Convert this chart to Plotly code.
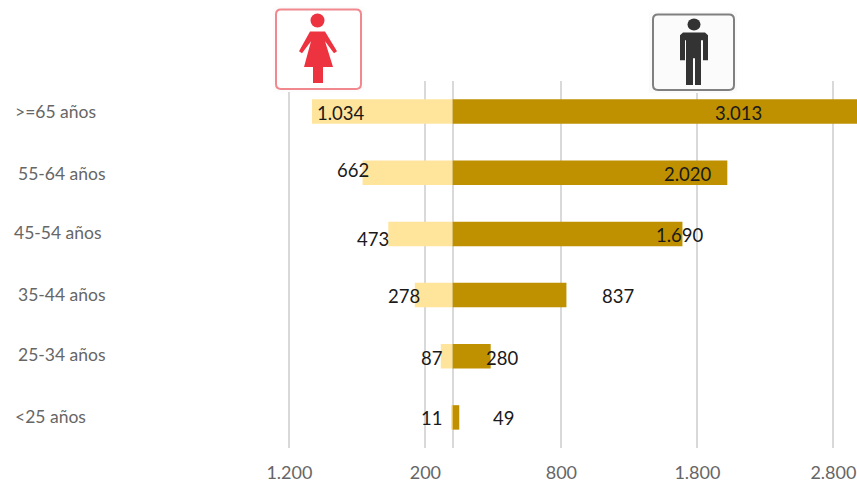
import plotly.graph_objects as go

categories = [">=65 años", "55-64 años", "45-54 años", "35-44 años", "25-34 años", "<25 años"]
mujeres = [1034, 662, 473, 278, 87, 11]
hombres = [3013, 2020, 1690, 837, 280, 49]
tick_vals = [-1200, -200, 0, 800, 1800, 2800]
tick_text = ["1.200", "200", "", "800", "1.800", "2.800"]
mujeres_text = ["1.034", "662", "473", "278", "87", "11"]
hombres_text = ["3.013", "2.020", "1.690", "837", "280", "49"]

W, H = 857, 483
FONT = "Lato"
def px(x): return x / W
def py(y): return 1 - (y - 81) / (451 - 81)

fig = go.Figure()
fig.add_bar(y=categories, x=[-v for v in mujeres], orientation="h", marker=dict(color="#FFE49C", line_width=0), name="Mujeres")
fig.add_bar(y=categories, x=hombres, orientation="h", marker=dict(color="#BF9000", line_width=0), name="Hombres")

ann = []
cat_x = [15, 18, 14, 18, 18, 15]
cat_y = [112, 174, 234, 296, 357, 419]
for t, x, y in zip(categories, cat_x, cat_y):
    ann.append(dict(x=px(x), y=py(y), xref="paper", yref="paper", text=t.replace("<", "&lt;"), showarrow=False,
                    xanchor="left", yanchor="middle", xshift=-2, font=dict(family=FONT, size=17.5, color="#666666")))
m_pos = [(341, 113), (353, 171), (373, 240), (404, 298), (431, 360), (431, 421)]
h_pos = [(738, 113), (688, 175), (680, 236), (618, 298), (502, 360), (504, 421)]
for t, (x, y) in list(zip(mujeres_text, m_pos)) + list(zip(hombres_text, h_pos)):
    ann.append(dict(x=px(x), y=py(y), xref="paper", yref="paper", text=t, showarrow=False,
                    xanchor="center", yanchor="middle", font=dict(family=FONT, size=18.5, color="#1a1a1a")))

def rect(x0, y0, x1, y1, r):
    return (f"M{px(x0+r)},{py(y0)} L{px(x1-r)},{py(y0)} Q{px(x1)},{py(y0)} {px(x1)},{py(y0+r)} "
            f"L{px(x1)},{py(y1-r)} Q{px(x1)},{py(y1)} {px(x1-r)},{py(y1)} L{px(x0+r)},{py(y1)} "
            f"Q{px(x0)},{py(y1)} {px(x0)},{py(y1-r)} L{px(x0)},{py(y0+r)} Q{px(x0)},{py(y0)} {px(x0+r)},{py(y0)} Z")
def poly(points):
    return "M" + " L".join(f"{px(x)},{py(y)}" for x, y in points) + " Z"
def shape(path, fill, line="rgba(0,0,0,0)", w=0):
    return dict(type="path", xref="paper", yref="paper", path=path, fillcolor=fill, line=dict(color=line, width=w), layer="above")
def circle(cx, cy, rx, ry, fill):
    return dict(type="circle", xref="paper", yref="paper", x0=px(cx-rx), x1=px(cx+rx), y0=py(cy+ry), y1=py(cy-ry),
                fillcolor=fill, line=dict(width=0), layer="above")

shapes = [
    shape(rect(273, 6, 364, 92, 2), "#FCFCFC"),
    shape(rect(276, 9, 361, 89, 5), "#FFFFFF", "#F0888E", 2),
    circle(317.5, 20, 7, 7, "#EE3340"),
    shape(poly([(310, 31), (325, 31), (337, 51), (334, 53), (325, 41), (333, 67), (323, 67), (323, 83), (313, 83),
                (313, 67), (304, 67), (311, 41), (302, 53), (299, 51)]), "#EE3340"),
    shape(rect(649, 11, 737, 93, 1), "#FBFBFB"),
    shape(rect(653, 14, 734, 90, 5), "#FBFBFB", "#808080", 2),
    circle(694, 24, 6.5, 6, "#333333"),
    shape(poly([(683, 32), (705, 32), (708, 35), (708, 60), (703, 60), (703, 40), (701, 40), (701, 85), (695, 85),
                (695, 58), (693, 58), (693, 85), (686, 85), (686, 40), (685, 40), (685, 60), (680, 60), (680, 35)]), "#333333"),
]

fig.update_layout(
    width=W, height=H, showlegend=False, barmode="overlay", bargap=0.6,
    margin=dict(l=0, r=0, t=81, b=32), paper_bgcolor="white", plot_bgcolor="white",
    xaxis=dict(range=[-452.6 / 0.136, (857 - 452.6) / 0.136], tickmode="array", tickvals=tick_vals, ticktext=tick_text,
               showgrid=True, gridcolor="#D9D9D9", gridwidth=1.5, zeroline=True, zerolinecolor="#D9D9D9", zerolinewidth=1.5,
               showline=False, ticks="", ticklabelstandoff=12, tickfont=dict(family=FONT, size=18, color="#666666")),
    yaxis=dict(autorange="reversed", showticklabels=False, showgrid=False, zeroline=False, showline=False, ticks=""),
    annotations=ann, shapes=shapes,
)
fig.write_html("out.html", config={"displayModeBar": False},
               post_script="document.body.style.margin='0';document.documentElement.style.overflow='hidden';")
